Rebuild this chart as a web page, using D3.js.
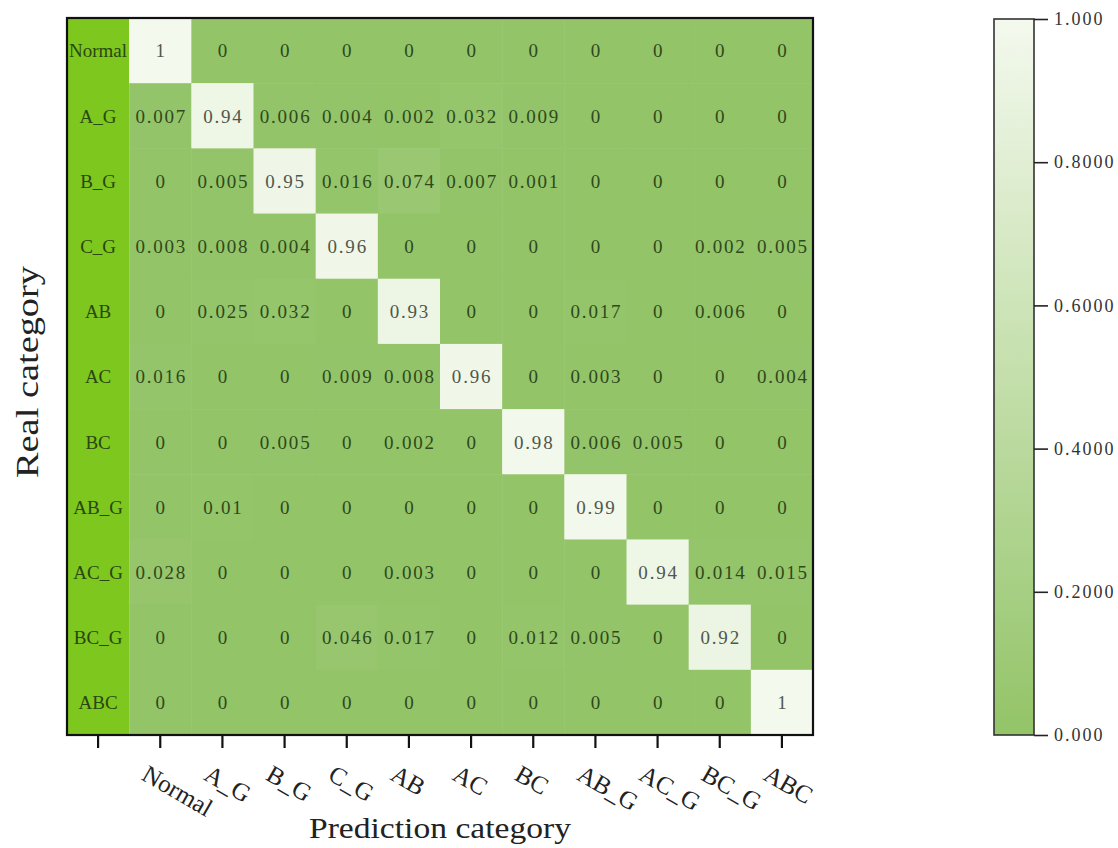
<!DOCTYPE html>
<html>
<head>
<meta charset="utf-8">
<script src="https://cdn.jsdelivr.net/npm/d3@7"></script>
<style>
  html, body { margin: 0; padding: 0; background: #ffffff; }
  svg { display: block; }
</style>
</head>
<body>
<svg id="chart" width="1118" height="848"></svg>
<script>
// Class names (rows = real class, columns = predicted class)
const categories = ["Normal", "A_G", "B_G", "C_G", "AB", "AC", "BC", "AB_G", "AC_G", "BC_G", "ABC"];

// Confusion matrix, one array per real class
const rowNormal = [1, 0, 0, 0, 0, 0, 0, 0, 0, 0, 0];
const rowA_G   = [0.007, 0.94, 0.006, 0.004, 0.002, 0.032, 0.009, 0, 0, 0, 0];
const rowB_G   = [0, 0.005, 0.95, 0.016, 0.074, 0.007, 0.001, 0, 0, 0, 0];
const rowC_G   = [0.003, 0.008, 0.004, 0.96, 0, 0, 0, 0, 0, 0.002, 0.005];
const rowAB    = [0, 0.025, 0.032, 0, 0.93, 0, 0, 0.017, 0, 0.006, 0];
const rowAC    = [0.016, 0, 0, 0.009, 0.008, 0.96, 0, 0.003, 0, 0, 0.004];
const rowBC    = [0, 0, 0.005, 0, 0.002, 0, 0.98, 0.006, 0.005, 0, 0];
const rowAB_G  = [0, 0.01, 0, 0, 0, 0, 0, 0.99, 0, 0, 0];
const rowAC_G  = [0.028, 0, 0, 0, 0.003, 0, 0, 0, 0.94, 0.014, 0.015];
const rowBC_G  = [0, 0, 0, 0.046, 0.017, 0, 0.012, 0.005, 0, 0.92, 0];
const rowABC   = [0, 0, 0, 0, 0, 0, 0, 0, 0, 0, 1];
const matrix = [rowNormal, rowA_G, rowB_G, rowC_G, rowAB, rowAC, rowBC, rowAB_G, rowAC_G, rowBC_G, rowABC];

// Colour bar ticks
const barTicks = [0, 0.2, 0.4, 0.6, 0.8, 1.0];
const barTickLabels = ["0.000", "0.2000", "0.4000", "0.6000", "0.8000", "1.000"];

const svg = d3.select("#chart");
const serif = "'Liberation Serif', 'DejaVu Serif', serif";

const plot = { left: 67, right: 813, top: 18, bottom: 735 };
const LABEL_COL = "__label";

// x: a leading label column followed by one column per predicted class
const x = d3.scaleBand()
  .domain([LABEL_COL, ...categories])
  .range([plot.left, plot.right]);
const y = d3.scaleBand()
  .domain(categories)
  .range([plot.top, plot.bottom]);

const color = d3.scaleLinear()
  .domain([0, 1])
  .range(["#93c468", "#f4f9ee"])
  .interpolate(d3.interpolateRgb);

// Label column background
svg.append("rect")
  .attr("x", x(LABEL_COL)).attr("y", plot.top)
  .attr("width", x.bandwidth()).attr("height", plot.bottom - plot.top)
  .attr("fill", "#7dc71e");

// Cells
const cells = [];
matrix.forEach((row, i) => row.forEach((v, j) => cells.push({ r: categories[i], c: categories[j], v, diag: i === j })));

const g = svg.append("g");
g.selectAll("rect.cell").data(cells).join("rect")
  .attr("class", "cell")
  .attr("x", d => x(d.c))
  .attr("y", d => y(d.r))
  .attr("width", x.bandwidth() + 0.5)
  .attr("height", y.bandwidth() + 0.5)
  .attr("fill", d => color(d.v));

const fmt = v => (v === 0 ? "0" : v === 1 ? "1" : String(v));

g.selectAll("text.val").data(cells).join("text")
  .attr("class", "val")
  .attr("x", d => x(d.c) + x.bandwidth() / 2 + 1)
  .attr("y", d => y(d.r) + y.bandwidth() / 2)
  .attr("dy", "0.36em")
  .attr("text-anchor", "middle")
  .attr("font-family", serif)
  .attr("font-size", 19)
  .attr("letter-spacing", 1.8)
  .attr("fill", d => (d.diag ? "#50574c" : "#2e4a1c"))
  .text(d => fmt(d.v));

// Row labels inside the label column
g.selectAll("text.rowlab").data(categories).join("text")
  .attr("class", "rowlab")
  .attr("x", x(LABEL_COL) + x.bandwidth() / 2)
  .attr("y", d => y(d) + y.bandwidth() / 2)
  .attr("dy", "0.36em")
  .attr("text-anchor", "middle")
  .attr("font-family", serif)
  .attr("font-size", 19)
  .attr("fill", "#2a4710")
  .text(d => d);

// Frame
svg.append("rect")
  .attr("x", plot.left).attr("y", plot.top)
  .attr("width", plot.right - plot.left).attr("height", plot.bottom - plot.top)
  .attr("fill", "none").attr("stroke", "#111").attr("stroke-width", 2.2);

// Bottom axis with ticks at every column centre
const xAxis = d3.axisBottom(x).tickSize(12).tickSizeOuter(0).tickFormat(() => "");
const axG = svg.append("g")
  .attr("transform", `translate(0,${plot.bottom + 1})`)
  .call(xAxis);
axG.select(".domain").remove();
axG.selectAll(".tick line").attr("stroke", "#111").attr("stroke-width", 2.2);

// Rotated class names under the ticks
svg.append("g").selectAll("text.xlab").data(categories).join("text")
  .attr("class", "xlab")
  .attr("transform", d => `translate(${x(d) + x.bandwidth() / 2 - 20},${779}) rotate(30)`)
  .attr("text-anchor", "start")
  .attr("font-family", serif)
  .attr("font-size", 25)
  .attr("fill", "#222")
  .text(d => d);

// Axis titles
svg.append("text")
  .attr("x", 440).attr("y", 838)
  .attr("text-anchor", "middle")
  .attr("font-family", serif)
  .attr("font-size", 30)
  .attr("textLength", 262)
  .attr("lengthAdjust", "spacingAndGlyphs")
  .attr("fill", "#222")
  .text("Prediction category");

svg.append("text")
  .attr("transform", `translate(38,${372}) rotate(-90)`)
  .attr("text-anchor", "middle")
  .attr("font-family", serif)
  .attr("font-size", 31)
  .attr("textLength", 212)
  .attr("lengthAdjust", "spacingAndGlyphs")
  .attr("fill", "#222")
  .text("Real category");

// Colour bar
const bar = { x: 994, w: 40, top: 19, bottom: 735 };
const barScale = d3.scaleLinear().domain([0, 1]).range([bar.bottom, bar.top]);

const defs = svg.append("defs");
const grad = defs.append("linearGradient")
  .attr("id", "barGrad")
  .attr("x1", "0").attr("y1", "1").attr("x2", "0").attr("y2", "0");
d3.range(0, 1.0001, 0.1).forEach(t => {
  grad.append("stop").attr("offset", t).attr("stop-color", color(t));
});

svg.append("rect")
  .attr("x", bar.x).attr("y", bar.top)
  .attr("width", bar.w).attr("height", bar.bottom - bar.top)
  .attr("fill", "url(#barGrad)")
  .attr("stroke", "#333").attr("stroke-width", 1.6);

const barAxis = d3.axisRight(barScale)
  .tickValues(barTicks)
  .tickSize(14)
  .tickSizeOuter(0)
  .tickFormat((d, i) => barTickLabels[i]);
const barG = svg.append("g")
  .attr("transform", `translate(${bar.x + bar.w},0)`)
  .call(barAxis);
barG.select(".domain").remove();
barG.selectAll(".tick line").attr("stroke", "#222").attr("stroke-width", 1.6);
barG.selectAll(".tick text")
  .attr("x", 20)
  .attr("font-family", serif)
  .attr("font-size", 18)
  .attr("letter-spacing", 2)
  .attr("fill", "#333");
</script>
</body>
</html>
